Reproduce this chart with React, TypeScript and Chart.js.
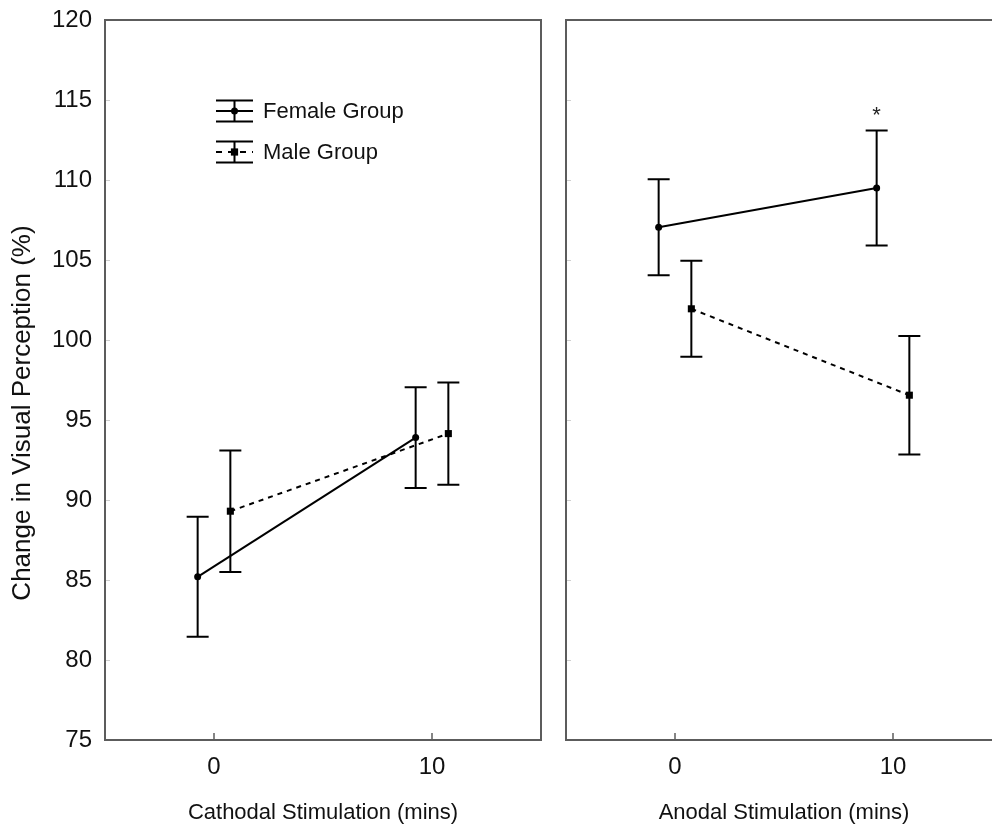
import React, { useEffect, useRef } from "react";
import { Chart, registerables } from "chart.js";

Chart.register(...registerables);

// ---- data ----
const timePoints = [0, 10];
const xTickValues = [0, 10];
const yMin = 75;
const yMax = 120;
const yStep = 5;

const cathodalFemale = [85.2, 93.9];
const cathodalFemaleErr = [3.75, 3.15];
const cathodalMale = [89.3, 94.15];
const cathodalMaleErr = [3.8, 3.2];

const anodalFemale = [107.05, 109.5];
const anodalFemaleErr = [3.0, 3.6];
const anodalMale = [101.95, 96.55];
const anodalMaleErr = [3.0, 3.7];

const anodalFemaleStars = ["", "*"];
const noStars = ["", ""];

const groupLabels = ["Female Group", "Male Group"];
const yTitle = "Change in Visual Perception (%)";
const cathodalTitle = "Cathodal Stimulation (mins)";
const anodalTitle = "Anodal Stimulation (mins)";

// ---- style ----
const FONT = '"Liberation Sans", Arial, Helvetica, sans-serif';
const FEMALE_OFFSET = -0.75;
const MALE_OFFSET = 0.75;
const BOX_COLOR = "#5c5c5c";
const CAP_HALF = 11;

type PanelProps = {
  female: number[];
  femaleErr: number[];
  male: number[];
  maleErr: number[];
  stars: string[];
  title: string;
  showY: boolean;
  showLegend: boolean;
  left: number;
  width: number;
};

function drawMarker(ctx: CanvasRenderingContext2D, kind: string, x: number, y: number) {
  ctx.fillStyle = "#000";
  if (kind === "circle") {
    ctx.beginPath();
    ctx.arc(x, y, 3.5, 0, Math.PI * 2);
    ctx.fill();
  } else {
    ctx.fillRect(x - 3.6, y - 3.6, 7.2, 7.2);
  }
}

function Panel(p: PanelProps) {
  const ref = useRef<HTMLCanvasElement>(null);
  useEffect(() => {
    const canvas = ref.current!;
    const groups = [
      { label: groupLabels[0], values: p.female, errs: p.femaleErr, offset: FEMALE_OFFSET, dash: [] as number[], marker: "circle", stars: p.stars },
      { label: groupLabels[1], values: p.male, errs: p.maleErr, offset: MALE_OFFSET, dash: [5, 5], marker: "rect", stars: noStars },
    ];

    const decor = {
      id: "decor",
      beforeDatasetsDraw(chart: any) {
        const ctx: CanvasRenderingContext2D = chart.ctx;
        const xs = chart.scales.x;
        const ys = chart.scales.y;
        const a = chart.chartArea;
        ctx.save();
        // faint inward ticks on y axis
        ctx.strokeStyle = "#cfcfcf";
        ctx.lineWidth = 1;
        for (let v = yMin + yStep; v < yMax; v += yStep) {
          const y = Math.round(ys.getPixelForValue(v)) + 0.5;
          ctx.beginPath();
          ctx.moveTo(a.left, y);
          ctx.lineTo(a.left + 5, y);
          ctx.stroke();
        }
        // x ticks inward
        ctx.strokeStyle = BOX_COLOR;
        ctx.lineWidth = 1.5;
        xTickValues.forEach((t) => {
          const x = xs.getPixelForValue(t);
          ctx.beginPath();
          ctx.moveTo(x, a.bottom);
          ctx.lineTo(x, a.bottom - 7);
          ctx.stroke();
        });
        // error bars
        ctx.strokeStyle = "#000";
        ctx.lineWidth = 2;
        ctx.setLineDash([]);
        groups.forEach((g) => {
          timePoints.forEach((t, i) => {
            const x = xs.getPixelForValue(t + g.offset);
            const yT = ys.getPixelForValue(g.values[i] + g.errs[i]);
            const yB = ys.getPixelForValue(g.values[i] - g.errs[i]);
            ctx.beginPath();
            ctx.moveTo(x, yT);
            ctx.lineTo(x, yB);
            ctx.moveTo(x - CAP_HALF, yT);
            ctx.lineTo(x + CAP_HALF, yT);
            ctx.moveTo(x - CAP_HALF, yB);
            ctx.lineTo(x + CAP_HALF, yB);
            ctx.stroke();
            if (g.stars[i]) {
              ctx.fillStyle = "#222";
              ctx.font = `22px ${FONT}`;
              ctx.textAlign = "center";
              ctx.textBaseline = "alphabetic";
              ctx.fillText(g.stars[i], x, yT - 8);
            }
          });
        });
        ctx.restore();
      },
      afterDraw(chart: any) {
        const ctx: CanvasRenderingContext2D = chart.ctx;
        const a = chart.chartArea;
        ctx.save();
        ctx.strokeStyle = BOX_COLOR;
        ctx.lineWidth = 2;
        ctx.strokeRect(a.left, a.top, a.right - a.left, a.bottom - a.top);
        if (p.showY) {
          ctx.save();
          ctx.translate(23, (a.top + a.bottom) / 2 + 33);
          ctx.rotate(-Math.PI / 2);
          ctx.fillStyle = "#111";
          ctx.font = `26px ${FONT}`;
          ctx.textAlign = "center";
          ctx.textBaseline = "middle";
          ctx.fillText(yTitle, 0, 0);
          ctx.restore();
        }
        if (p.showLegend) {
          const lx0 = a.left + 111;
          const lx1 = lx0 + 37;
          const cx = (lx0 + lx1) / 2;
          groups.forEach((g, k) => {
            const y = a.top + 91 + k * 41;
            ctx.strokeStyle = "#000";
            ctx.lineWidth = 2;
            ctx.setLineDash([]);
            ctx.beginPath();
            ctx.moveTo(lx0, y - 10.5);
            ctx.lineTo(lx1, y - 10.5);
            ctx.moveTo(lx0, y + 10.5);
            ctx.lineTo(lx1, y + 10.5);
            ctx.moveTo(cx, y - 10.5);
            ctx.lineTo(cx, y + 10.5);
            ctx.stroke();
            ctx.setLineDash(g.dash.length ? [6, 6] : []);
            ctx.beginPath();
            ctx.moveTo(lx0, y);
            ctx.lineTo(lx1, y);
            ctx.stroke();
            ctx.setLineDash([]);
            drawMarker(ctx, g.marker, cx, y);
            ctx.fillStyle = "#111";
            ctx.font = `22px ${FONT}`;
            ctx.textAlign = "left";
            ctx.textBaseline = "middle";
            ctx.fillText(g.label, lx1 + 10, y + 1);
          });
        }
        ctx.restore();
      },
    };

    const chart = new Chart(canvas, {
      type: "scatter",
      data: {
        datasets: groups.map((g) => ({
          label: g.label,
          data: timePoints.map((t, i) => ({ x: t + g.offset, y: g.values[i] })),
          showLine: true,
          borderColor: "#000",
          backgroundColor: "#000",
          borderWidth: 2,
          borderDash: g.dash,
          pointStyle: g.marker === "circle" ? "circle" : "rect",
          pointRadius: g.marker === "circle" ? 3.5 : 5,
          pointBorderWidth: 0,
        })),
      },
      options: {
        responsive: false,
        animation: false,
        devicePixelRatio: 1,
        layout: { padding: { left: p.showY ? 0 : 10, right: p.showY ? 15 : 8, top: 20, bottom: 0 } },
        plugins: { legend: { display: false }, tooltip: { enabled: false } },
        scales: {
          x: {
            type: "linear",
            min: -5,
            max: 15,
            grid: { display: false, drawTicks: false },
            border: { display: false },
            afterBuildTicks: (s: any) => {
              s.ticks = xTickValues.map((v) => ({ value: v }));
            },
            afterFit: (s: any) => {
              s.height = 89;
              s.paddingLeft = 0;
              s.paddingRight = 0;
            },
            ticks: {
              color: "#111",
              font: { family: FONT, size: 24 },
              padding: 13,
              maxRotation: 0,
            },
            title: {
              display: true,
              text: p.title,
              color: "#111",
              font: { family: FONT, size: 22 },
              padding: { top: 0, bottom: 3 },
            },
          },
          y: {
            type: "linear",
            display: p.showY,
            min: yMin,
            max: yMax,
            grid: { display: false, drawTicks: false },
            border: { display: false },
            ticks: {
              stepSize: yStep,
              color: "#111",
              font: { family: FONT, size: 24 },
              padding: 13,
            },
            afterFit: (s: any) => {
              s.width = p.showY ? 105 : 0;
              s.paddingTop = 0;
              s.paddingBottom = 0;
            },
            title: { display: false },
          },
        },
      },
      plugins: [decor],
    } as any);
    return () => chart.destroy();
  }, []);
  return (
    <canvas
      ref={ref}
      width={p.width}
      height={829}
      style={{ position: "absolute", left: p.left, top: 0, width: p.width, height: 829 }}
    />
  );
}

export default function App() {
  return (
    <div style={{ position: "fixed", left: 0, top: 0, width: 992, height: 829, overflow: "hidden", background: "#fff" }}>
      <Panel
        female={cathodalFemale}
        femaleErr={cathodalFemaleErr}
        male={cathodalMale}
        maleErr={cathodalMaleErr}
        stars={noStars}
        title={cathodalTitle}
        showY={true}
        showLegend={true}
        left={0}
        width={556}
      />
      <Panel
        female={anodalFemale}
        femaleErr={anodalFemaleErr}
        male={anodalMale}
        maleErr={anodalMaleErr}
        stars={anodalFemaleStars}
        title={anodalTitle}
        showY={false}
        showLegend={false}
        left={556}
        width={454}
      />
    </div>
  );
}
